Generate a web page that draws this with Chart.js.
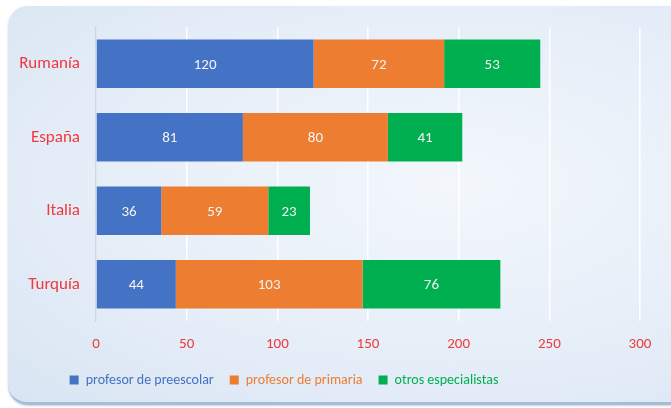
<!DOCTYPE html>
<html>
<head>
<meta charset="utf-8">
<script src="https://cdn.jsdelivr.net/npm/chart.js@4"></script>
<style>
  html, body { margin: 0; padding: 0; background: #fff; }
  #wrap { position: relative; width: 671px; height: 408px; }
  #panel {
    position: absolute; left: 8px; top: 6px; width: 680px; height: 396px;
    border-radius: 20px;
    background: radial-gradient(ellipse at 65% 45%, #f3f7fc 0%, #e6eef8 55%, #d9e5f3 100%);
    border-bottom: 3px solid #a9bcd6;
    box-shadow: 0 1px 2px rgba(120,140,170,0.4);
  }
  canvas { position: absolute; left: 0; top: 0; }
</style>
</head>
<body>
<div id="wrap">
  <div id="panel"></div>
  <canvas id="chart" width="671" height="408"></canvas>
</div>
<script>
var countries = ["Rumanía", "España", "Italia", "Turquía"];
var preescolar = [120, 81, 36, 44];
var primaria = [72, 80, 59, 103];
var otros = [53, 41, 23, 76];
var seriesNames = ["profesor de preescolar", "profesor de primaria", "otros especialistas"];
var seriesColors = ["#4472C4", "#ED7D31", "#00B050"];
var fontFamily = "Carlito, Lato, 'Open Sans', sans-serif";

// white numbers inside each bar segment
var barLabels = {
  id: 'barLabels',
  afterDatasetsDraw: function(chart) {
    var ctx = chart.ctx;
    ctx.save();
    ctx.font = "15px " + fontFamily;
    ctx.fillStyle = "#f4f4f4";
    ctx.textAlign = "center";
    ctx.textBaseline = "middle";
    chart.data.datasets.forEach(function(ds, i) {
      chart.getDatasetMeta(i).data.forEach(function(bar, j) {
        var cx = (bar.x + bar.base) / 2;
        ctx.fillText(ds.data[j], cx, bar.y + 1);
      });
    });
    ctx.restore();
  }
};

// the legend sits left of centre in the original
var legendShift = {
  id: 'legendShift',
  afterLayout: function(chart) {
    chart.legend.left -= 40;
    chart.legend.right -= 40;
  }
};

var chart = new Chart(document.getElementById("chart"), {
  type: 'bar',
  data: {
    labels: countries,
    datasets: [
      { label: seriesNames[0], data: preescolar, backgroundColor: seriesColors[0] },
      { label: seriesNames[1], data: primaria, backgroundColor: seriesColors[1] },
      { label: seriesNames[2], data: otros, backgroundColor: seriesColors[2] }
    ]
  },
  options: {
    indexAxis: 'y',
    responsive: false,
    animation: false,
    barPercentage: 0.66,
    categoryPercentage: 1,
    layout: { padding: { left: 8, right: 31, top: 27, bottom: 11 } },
    scales: {
      x: {
        stacked: true,
        min: 0, max: 300,
        afterFit: function(scale) { scale.height = 36; },
        ticks: { stepSize: 50, color: "#f0393d", font: { family: fontFamily, size: 15 }, padding: 14 },
        grid: { color: "#ffffff", lineWidth: 1.5, drawTicks: false },
        border: { display: false }
      },
      y: {
        stacked: true,
        afterFit: function(scale) { scale.width = 88; },
        ticks: { color: "#f0393d", font: { family: fontFamily, size: 17 }, padding: 8 },
        grid: { display: false },
        border: { color: "#cfd6df", width: 1.5 }
      }
    },
    plugins: {
      legend: {
        position: 'bottom',
        labels: {
          boxWidth: 9, boxHeight: 9, padding: 16,
          font: { family: fontFamily, size: 14 },
          generateLabels: function(chart) {
            return chart.data.datasets.map(function(ds, i) {
              return {
                text: ds.label, fillStyle: ds.backgroundColor, strokeStyle: ds.backgroundColor,
                lineWidth: 0, fontColor: ds.backgroundColor, datasetIndex: i, hidden: false
              };
            });
          }
        }
      },
      tooltip: { enabled: false }
    }
  },
  plugins: [barLabels, legendShift]
});
</script>
</body>
</html>
